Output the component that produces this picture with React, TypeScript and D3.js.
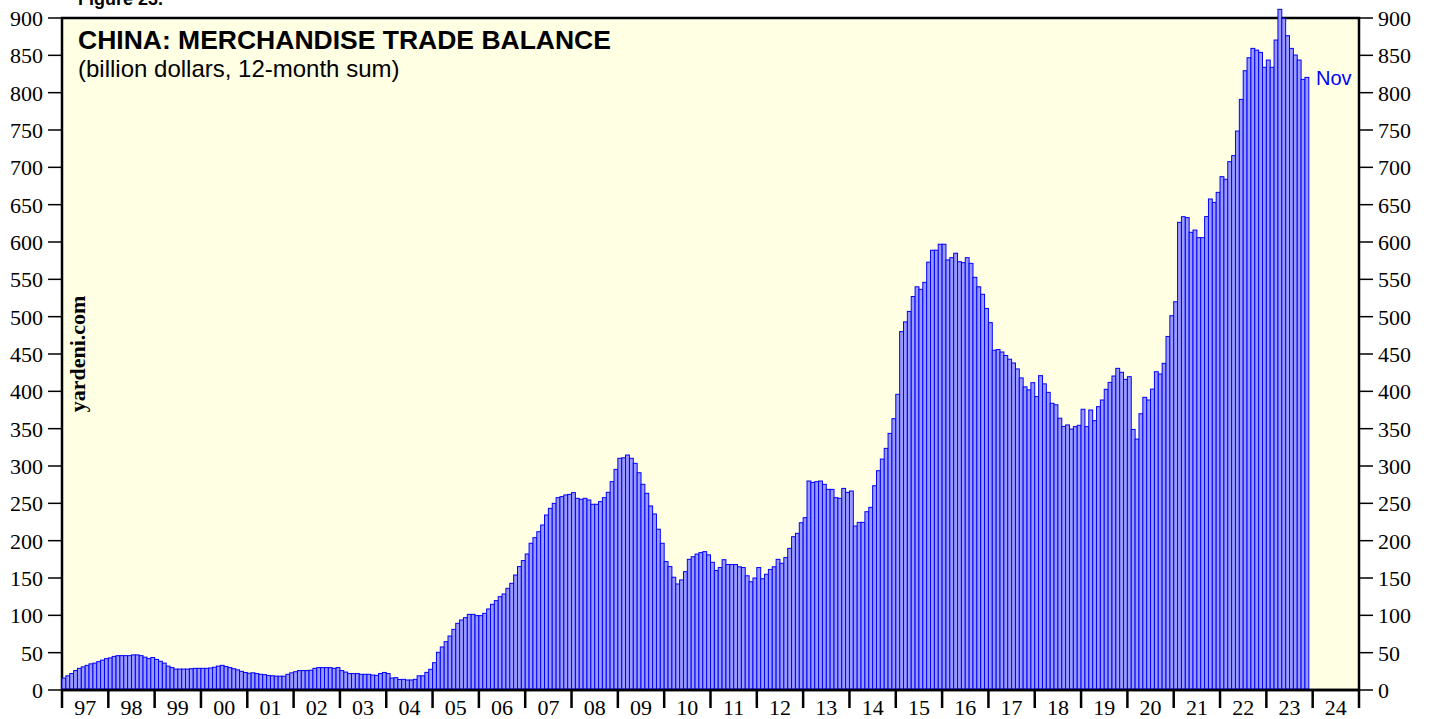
import React, { useEffect, useRef } from 'react';
import * as d3 from 'd3';

// China merchandise trade balance, billion dollars, 12-month sum (Jan..Dec)
const bal1997 = [16, 19, 22, 26, 29, 31, 33, 35, 36, 38, 40, 42];
const bal1998 = [43, 45, 46, 46, 46, 46, 47, 47, 46, 44, 42, 43.5];
const bal1999 = [41, 38.5, 36, 32, 30, 28, 28, 28, 28, 28.5, 29, 29];
const bal2000 = [29, 29, 29.5, 30.5, 32, 33, 31.5, 30, 28.5, 27, 25, 23.5];
const bal2001 = [22.5, 23, 22, 21, 20.5, 19.5, 19, 18.5, 18.5, 18.5, 21, 23];
const bal2002 = [24.5, 26, 26, 26, 26.5, 29, 30, 30, 30, 30, 29, 30];
const bal2003 = [26, 24, 22, 22, 22, 21, 21, 21, 20, 19.6, 22, 23.5];
const bal2004 = [22, 16, 16.5, 14, 14.3, 13.4, 13.4, 14.3, 19, 19, 23.6, 27.7];
const bal2005 = [36.6, 50.5, 57.6, 64.7, 72.3, 81.2, 89.3, 93.8, 96.9, 101.3, 101.3, 99.6];
const bal2006 = [99.6, 102.7, 108.5, 114.8, 119.7, 125, 128.6, 136.2, 142.9, 154, 165.3, 173.3];
const bal2007 = [182.2, 196.5, 204, 212, 221, 234.4, 243.3, 250, 257.6, 259, 261.2, 262];
const bal2008 = [264.3, 256.7, 255.4, 256.7, 254.5, 248.7, 248.7, 252.3, 257.6, 264.8, 279, 295.5];
const bal2009 = [310.3, 311, 314.7, 310.3, 303.6, 291, 275.5, 263.4, 246.5, 235.8, 215.3, 196.5];
const bal2010 = [172, 165.3, 151, 142, 147.4, 158.5, 175, 178.5, 182, 184, 185.3, 181];
const bal2011 = [171, 160, 164, 174.5, 168, 168, 168, 165, 164, 153, 145, 150];
const bal2012 = [164, 149, 155, 161.5, 165, 175, 169.7, 177.3, 189.7, 205.3, 209.8, 224];
const bal2013 = [230.8, 279.9, 278, 279, 279.9, 275.4, 268.7, 268.7, 257.6, 256.7, 270, 264.7];
const bal2014 = [266.5, 219.6, 224.5, 224.5, 238.8, 244.6, 273.6, 293.7, 309.3, 323.6, 343.7, 363.4];
const bal2015 = [396, 480, 493, 507, 527, 540, 536.6, 546, 573, 589, 589, 597];
const bal2016 = [597, 576, 579, 585, 573.6, 572.3, 579, 571.4, 552.7, 540, 530, 511];
const bal2017 = [492, 455, 456, 452.7, 448, 443, 438, 430, 418, 406, 402, 411.6];
const bal2018 = [393, 421, 410, 398.6, 384, 382, 364, 353, 355, 349.5, 352.7, 354.5];
const bal2019 = [376, 352.7, 375, 360.7, 379.5, 388.4, 402.7, 412, 420.5, 430.8, 425.5, 416];
const bal2020 = [419.6, 349, 336, 370, 392, 388.4, 403, 426.3, 423.2, 437.5, 473.5, 501.3];
const bal2021 = [520, 626.3, 633.9, 632.6, 613, 616, 605.8, 605.8, 634, 657.6, 653, 666.5];
const bal2022 = [687.5, 684, 707.6, 715.6, 748.6, 791, 829.4, 846.8, 859.3, 857, 854, 834];
const bal2023 = [843.7, 834, 870.5, 911.6, 899.5, 876.3, 859.3, 850.4, 843.7, 817.8, 820.5];

const yearLabels = ['97', '98', '99', '00', '01', '02', '03', '04', '05', '06', '07', '08', '09', '10',
    '11', '12', '13', '14', '15', '16', '17', '18', '19', '20', '21', '22', '23', '24'];
const yTicks = [0, 50, 100, 150, 200, 250, 300, 350, 400, 450, 500, 550, 600, 650, 700, 750, 800, 850, 900];

const SERIF = '"Liberation Serif", "Times New Roman", serif';
const SANS = '"Liberation Sans", Arial, sans-serif';

export default function App() {
    const svgRef = useRef<SVGSVGElement>(null);

    useEffect(() => {
        if (!svgRef.current) return;

        const width = 1429;
        const height = 719;
        const left = 62, right = 1359, top = 18, bottom = 690;

        const values = [
            bal1997, bal1998, bal1999, bal2000, bal2001, bal2002, bal2003, bal2004, bal2005,
            bal2006, bal2007, bal2008, bal2009, bal2010, bal2011, bal2012, bal2013, bal2014,
            bal2015, bal2016, bal2017, bal2018, bal2019, bal2020, bal2021, bal2022, bal2023,
        ].flat();

        const svg = d3.select(svgRef.current);
        svg.selectAll('*').remove();

        // months since Jan 1997
        const x = d3.scaleLinear().domain([0, yearLabels.length * 12]).range([left, right]);
        const y = d3.scaleLinear().domain([0, 900]).range([bottom, top]);

        svg.append('rect').attr('width', width).attr('height', height).attr('fill', '#ffffff');

        // plot background + frame
        svg.append('rect')
            .attr('x', left).attr('y', top)
            .attr('width', right - left).attr('height', bottom - top)
            .attr('fill', '#ffffe3')
            .attr('stroke', '#000')
            .attr('stroke-width', 2.5);

        // y ticks left & right
        const yt = svg.append('g');
        yTicks.forEach(t => {
            yt.append('line').attr('x1', 48).attr('x2', left).attr('y1', y(t)).attr('y2', y(t))
                .attr('stroke', '#000').attr('stroke-width', 1.5);
            yt.append('line').attr('x1', right).attr('x2', 1373).attr('y1', y(t)).attr('y2', y(t))
                .attr('stroke', '#000').attr('stroke-width', 1.5);
            yt.append('text').attr('x', 43).attr('y', y(t) + 8)
                .attr('text-anchor', 'end')
                .style('font-family', SERIF).style('font-size', '22px')
                .text(t);
            yt.append('text').attr('x', 1378).attr('y', y(t) + 8)
                .style('font-family', SERIF).style('font-size', '22px')
                .text(t);
        });

        // bars
        svg.append('g')
            .selectAll('rect')
            .data(values)
            .enter()
            .append('rect')
            .attr('x', (d, i) => x(i))
            .attr('y', d => y(d))
            .attr('width', x(1) - x(0))
            .attr('height', d => y(0) - y(d) - 1)
            .attr('fill', '#9a9aff')
            .attr('stroke', '#0000ff')
            .attr('stroke-width', 1);

        // bottom axis line
        svg.append('line').attr('x1', left).attr('x2', right).attr('y1', bottom).attr('y2', bottom)
            .attr('stroke', '#000').attr('stroke-width', 2.5);

        // year ticks + labels
        const xt = svg.append('g');
        d3.range(yearLabels.length + 1).forEach(k => {
            xt.append('line').attr('x1', x(k * 12)).attr('x2', x(k * 12))
                .attr('y1', bottom).attr('y2', 708)
                .attr('stroke', '#000').attr('stroke-width', 2.5);
        });
        yearLabels.forEach((lab, k) => {
            xt.append('text').attr('x', x(k * 12 + 6)).attr('y', 715)
                .attr('text-anchor', 'middle')
                .style('font-family', SERIF).style('font-size', '22px')
                .text(lab);
        });

        // titles
        svg.append('text').attr('x', 78).attr('y', 5)
            .style('font-family', SANS).style('font-size', '18px').style('font-weight', 'bold')
            .text('Figure 23.');
        svg.append('text').attr('x', 78).attr('y', 49)
            .style('font-family', SANS).style('font-size', '26.5px').style('font-weight', 'bold')
            .text('CHINA: MERCHANDISE TRADE BALANCE');
        svg.append('text').attr('x', 78).attr('y', 77)
            .style('font-family', SANS).style('font-size', '24px')
            .text('(billion dollars, 12-month sum)');

        svg.append('text').attr('x', 1316).attr('y', 85)
            .attr('fill', '#0000ff')
            .style('font-family', SANS).style('font-size', '20px')
            .text('Nov');

        svg.append('text')
            .attr('transform', 'translate(85,354) rotate(-90)')
            .attr('text-anchor', 'middle')
            .style('font-family', SERIF).style('font-size', '22px').style('font-weight', 'bold')
            .text('yardeni.com');
    }, []);

    return (
        <div style={{ position: 'absolute', left: 0, top: 0 }}>
            <svg ref={svgRef} width={1429} height={719} />
        </div>
    );
}
